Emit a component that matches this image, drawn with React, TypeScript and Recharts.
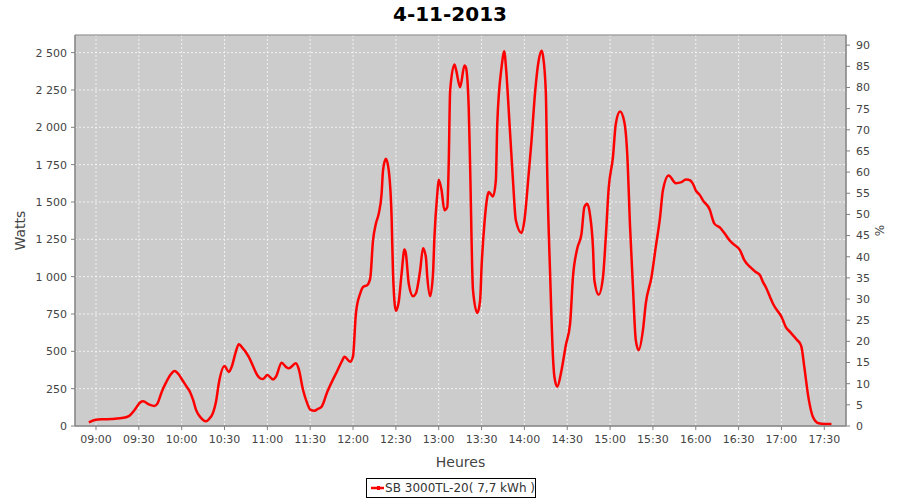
import { CartesianGrid, Line, LineChart, ReferenceArea, XAxis, YAxis } from "recharts";

// readings of the inverter output, 4 Nov 2013
const times = [
  "08:55", "09:00", "09:05", "09:11", "09:17", "09:22", "09:24", "09:27", "09:31", "09:33",
  "09:37", "09:41", "09:43", "09:46", "09:49", "09:52", "09:55", "09:58", "10:00", "10:03",
  "10:06", "10:08", "10:10", "10:13", "10:17", "10:19", "10:22", "10:24", "10:26", "10:30",
  "10:33", "10:35", "10:38", "10:40", "10:42", "10:47", "10:50", "10:53", "10:55", "10:57",
  "11:00", "11:04", "11:06", "11:10", "11:13", "11:15", "11:20", "11:22", "11:25", "11:28",
  "11:30", "11:33", "11:35", "11:38", "11:42", "11:46", "11:49", "11:52", "11:54", "11:58",
  "12:00", "12:02", "12:05", "12:07", "12:10", "12:12", "12:14", "12:16", "12:18", "12:20",
  "12:21", "12:23", "12:25", "12:27", "12:28", "12:30", "12:32", "12:34", "12:36", "12:37",
  "12:39", "12:42", "12:44", "12:47", "12:49", "12:51", "12:52", "12:54", "12:56", "12:57",
  "12:59", "13:00", "13:02", "13:04", "13:06", "13:07", "13:08", "13:11", "13:12", "13:15",
  "13:18", "13:19", "13:21", "13:22", "13:24", "13:27", "13:29", "13:30", "13:32", "13:34",
  "13:35", "13:38", "13:40", "13:41", "13:44", "13:46", "13:47", "13:50", "13:52", "13:54",
  "13:58", "14:00", "14:03", "14:05", "14:07", "14:10", "14:12", "14:13", "14:15", "14:16",
  "14:18", "14:20", "14:21", "14:23", "14:26", "14:29", "14:32", "14:34", "14:37", "14:40",
  "14:42", "14:44", "14:46", "14:48", "14:49", "14:52", "14:55", "14:57", "14:59", "15:02",
  "15:04", "15:07", "15:10", "15:12", "15:14", "15:16", "15:18", "15:20", "15:23", "15:25",
  "15:29", "15:32", "15:35", "15:37", "15:41", "15:46", "15:50", "15:53", "15:55", "15:58",
  "16:00", "16:03", "16:05", "16:10", "16:11", "16:13", "16:17", "16:20", "16:24", "16:26",
  "16:31", "16:34", "16:38", "16:42", "16:45", "16:47", "16:49", "16:52", "16:54", "16:56",
  "17:00", "17:01", "17:03", "17:06", "17:08", "17:11", "17:13", "17:14", "17:16", "17:19",
  "17:22", "17:26", "17:30", "17:35"
];

const watts = [
  25, 42, 45, 47, 52, 62, 74, 107, 158, 165,
  145, 134, 150, 228, 290, 341, 369, 345, 315, 270,
  225, 175, 110, 60, 32, 45, 90, 160, 285, 401,
  362, 396, 500, 548, 530, 463, 400, 340, 319, 315,
  341, 312, 330, 423, 396, 386, 420, 380, 241, 150,
  110, 102, 112, 129, 229, 312, 370, 430, 463, 430,
  468, 753, 887, 931, 943, 987, 1243, 1355, 1422, 1555,
  1711, 1789, 1711, 1399, 1021, 771, 831, 1021, 1181, 1154,
  954, 869, 887, 1043, 1190, 1132, 998, 869, 1021, 1266,
  1555, 1649, 1578, 1444, 1466, 1756, 2246, 2420, 2391, 2268,
  2413, 2402, 2134, 1733, 909, 757, 842, 1065, 1355, 1533,
  1566, 1537, 1644, 2023, 2402, 2509, 2413, 1957, 1644, 1377,
  1292, 1377, 1689, 1912, 2179, 2447, 2513, 2480, 2235, 1689,
  1021, 463, 330, 263, 374, 541, 686, 998, 1188, 1288,
  1466, 1488, 1410, 1199, 976, 880, 994, 1266, 1589, 1800,
  2023, 2105, 2034, 1823, 1332, 931, 575, 508, 642, 820,
  998, 1199, 1399, 1578, 1678, 1626, 1633, 1650, 1649, 1622,
  1578, 1544, 1511, 1444, 1410, 1355, 1328, 1292, 1239, 1221,
  1176, 1110, 1065, 1031, 1009, 965, 931, 864, 820, 787,
  731, 709, 664, 630, 608, 575, 553, 530, 396, 185,
  62, 18, 13, 13
];

const hourTicks = [
  "09:00", "09:30", "10:00", "10:30", "11:00", "11:30", "12:00", "12:30", "13:00",
  "13:30", "14:00", "14:30", "15:00", "15:30", "16:00", "16:30", "17:00", "17:30"
];
const wattTicks = [0, 250, 500, 750, 1000, 1250, 1500, 1750, 2000, 2250, 2500];
const percentTicks = [0, 5, 10, 15, 20, 25, 30, 35, 40, 45, 50, 55, 60, 65, 70, 75, 80, 85, 90];

const title = "4-11-2013";
const seriesName = "SB 3000TL-20( 7,7 kWh )";

const toMinutes = (s: string) => {
  const [h, m] = s.split(":");
  return parseInt(h, 10) * 60 + parseInt(m, 10);
};

const fmtTime = (v: number) => {
  const h = Math.floor(v / 60);
  const m = v % 60;
  return `${String(h).padStart(2, "0")}:${String(m).padStart(2, "0")}`;
};

const fmtWatts = (v: number) =>
  v >= 1000 ? `${Math.floor(v / 1000)} ${String(v % 1000).padStart(3, "0")}` : String(v);

const data = times.map((t, i) => ({ minute: toMinutes(t), watts: watts[i] }));

const X_MIN = 525.3;
const X_MAX = 1065.2;
const W_MAX = 2618;
const P_MAX = 92.4;

const font = "'DejaVu Sans', sans-serif";
const tickStyle = { fontSize: 11, fill: "#444444", fontFamily: font };
const labelStyle = { fontSize: 14, fill: "#444444", fontFamily: font };

export default function App() {
  return (
    <div style={{ position: "absolute", left: 0, top: 0, width: 900, height: 500, background: "#ffffff" }}>
      <div
        style={{
          position: "absolute", left: 0, top: 0, width: 900, height: 30, lineHeight: "28px",
          textAlign: "center", fontFamily: font, fontWeight: "bold", fontSize: 20, color: "#000"
        }}
      >
        {title}
      </div>
      <LineChart width={900} height={500} data={data} margin={{ top: 35, right: 0, bottom: 30, left: 0 }}>
        <CartesianGrid fill="#cccccc" stroke="#f2f2f2" strokeDasharray="2 2" yAxisId="left" />
        <ReferenceArea
          yAxisId="left"
          x1={X_MIN}
          x2={X_MAX}
          y1={0}
          y2={W_MAX}
          fill="none"
          stroke="#808080"
          strokeWidth={1}
          ifOverflow="visible"
        />
        <XAxis
          dataKey="minute"
          type="number"
          domain={[X_MIN, X_MAX]}
          allowDataOverflow
          ticks={hourTicks.map(toMinutes)}
          tickFormatter={fmtTime}
          tick={tickStyle}
          tickSize={4}
          tickMargin={5}
          height={44}
          stroke="#808080"
          label={{ value: "Heures", position: "insideBottom", offset: 3, style: labelStyle }}
        />
        <YAxis
          yAxisId="left"
          domain={[0, W_MAX]}
          allowDataOverflow
          ticks={wattTicks}
          tickFormatter={fmtWatts}
          tick={tickStyle}
          tickSize={4}
          tickMargin={4}
          width={75}
          stroke="#808080"
          label={{ value: "Watts", angle: -90, position: "insideLeft", offset: 20, textAnchor: "middle", style: labelStyle }}
        />
        <YAxis
          yAxisId="right"
          orientation="right"
          domain={[0, P_MAX]}
          allowDataOverflow
          ticks={percentTicks}
          tick={tickStyle}
          tickSize={4}
          tickMargin={6}
          width={54}
          stroke="#808080"
          label={{ value: "%", angle: -90, position: "insideRight", offset: 20, textAnchor: "middle", style: { ...labelStyle, fontSize: 12 } }}
        />
        <Line
          yAxisId="left"
          type="monotone"
          dataKey="watts"
          name={seriesName}
          stroke="#ff0000"
          strokeWidth={2.5}
          dot={false}
          isAnimationActive={false}
        />
      </LineChart>
      <div
        style={{
          position: "absolute", left: 366, top: 478, width: 168, height: 18, border: "1px solid #000",
          display: "flex", alignItems: "center", fontFamily: font, fontSize: 12, color: "#333",
          boxSizing: "content-box"
        }}
      >
        <svg width={20} height={10} style={{ marginLeft: 2, marginRight: 1 }}>
          <line x1={2} y1={5} x2={18} y2={5} stroke="#ff0000" strokeWidth={2.5} />
          <rect x={8} y={3} width={3} height={4} fill="#ff0000" />
        </svg>
        <span style={{ whiteSpace: "nowrap" }}>{seriesName}</span>
      </div>
    </div>
  );
}
